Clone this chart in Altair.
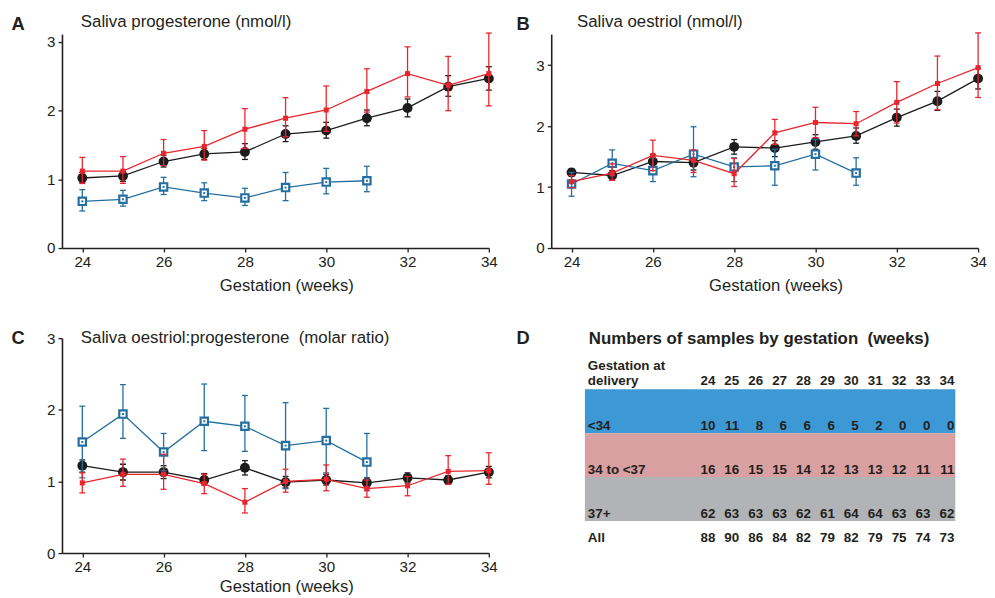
import altair as alt
import pandas as pd

# ---------------- data ----------------
weeks = [24, 25, 26, 27, 28, 29, 30, 31, 32, 33, 34]
weeks_lt34 = [24, 25, 26, 27, 28, 29, 30, 31]

# Panel A: saliva progesterone (nmol/l)
A_black_mean = [1.02, 1.05, 1.26, 1.37, 1.40, 1.66, 1.71, 1.89, 2.04, 2.35, 2.47]
A_black_lo = [0.95, 0.97, 1.18, 1.29, 1.29, 1.55, 1.60, 1.78, 1.91, 2.21, 2.30]
A_black_hi = [1.10, 1.12, 1.35, 1.45, 1.52, 1.78, 1.83, 2.01, 2.17, 2.51, 2.64]
A_red_mean = [1.12, 1.12, 1.38, 1.48, 1.73, 1.89, 2.01, 2.28, 2.54, 2.37, 2.54]
A_red_lo = [0.94, 0.94, 1.20, 1.28, 1.45, 1.62, 1.70, 1.98, 2.20, 2.00, 2.07]
A_red_hi = [1.32, 1.33, 1.58, 1.71, 2.03, 2.19, 2.36, 2.61, 2.93, 2.79, 3.13]
A_blue_mean = [0.68, 0.71, 0.89, 0.80, 0.73, 0.88, 0.96, 0.98]
A_blue_lo = [0.54, 0.61, 0.78, 0.69, 0.62, 0.69, 0.79, 0.82]
A_blue_hi = [0.85, 0.84, 1.03, 0.95, 0.87, 1.10, 1.16, 1.19]

# Panel B: saliva oestriol (nmol/l)
B_black_mean = [1.24, 1.19, 1.42, 1.40, 1.66, 1.64, 1.74, 1.84, 2.14, 2.41, 2.78]
B_black_lo = [1.18, 1.11, 1.32, 1.28, 1.54, 1.50, 1.62, 1.72, 2.00, 2.26, 2.61]
B_black_hi = [1.30, 1.27, 1.53, 1.50, 1.78, 1.76, 1.86, 1.97, 2.28, 2.57, 2.95]
B_red_mean = [1.09, 1.23, 1.52, 1.44, 1.22, 1.89, 2.06, 2.04, 2.39, 2.70, 2.96]
B_red_lo = [0.99, 1.11, 1.27, 1.24, 1.01, 1.70, 1.81, 1.84, 2.05, 2.27, 2.47]
B_red_hi = [1.19, 1.38, 1.77, 1.61, 1.47, 2.11, 2.31, 2.24, 2.73, 3.15, 3.53]
B_blue_mean = [1.05, 1.39, 1.27, 1.54, 1.33, 1.35, 1.54, 1.23]
B_blue_lo = [0.85, 1.19, 1.09, 1.17, 1.09, 1.03, 1.28, 1.03]
B_blue_hi = [1.24, 1.61, 1.48, 1.99, 1.48, 1.62, 1.78, 1.48]

# Panel C: oestriol:progesterone molar ratio
C_black_mean = [1.22, 1.13, 1.13, 1.02, 1.19, 0.99, 1.02, 0.98, 1.05, 1.02, 1.13]
C_black_lo = [1.13, 1.02, 1.04, 0.95, 1.09, 0.91, 0.95, 0.91, 0.98, 0.96, 1.05]
C_black_hi = [1.30, 1.24, 1.22, 1.11, 1.29, 1.07, 1.10, 1.05, 1.12, 1.08, 1.21]
C_red_mean = [0.98, 1.10, 1.10, 0.97, 0.71, 1.00, 1.03, 0.90, 0.94, 1.14, 1.15]
C_red_lo = [0.84, 0.93, 0.89, 0.83, 0.56, 0.85, 0.87, 0.78, 0.80, 0.96, 0.96]
C_red_hi = [1.12, 1.31, 1.38, 1.10, 0.90, 1.17, 1.23, 1.02, 1.07, 1.36, 1.40]
C_blue_mean = [1.55, 1.94, 1.41, 1.84, 1.77, 1.50, 1.57, 1.27]
C_blue_lo = [1.05, 1.60, 1.15, 1.43, 1.42, 0.90, 1.12, 0.87]
C_blue_hi = [2.05, 2.35, 1.67, 2.36, 2.20, 2.10, 2.02, 1.67]

# Panel D: numbers of samples
groups = ["<34", "34 to <37", "37+"]
counts_lt34 = [10, 11, 8, 6, 6, 6, 5, 2, 0, 0, 0]
counts_34_37 = [16, 16, 15, 15, 14, 12, 13, 13, 12, 11, 11]
counts_37p = [62, 63, 63, 63, 62, 61, 64, 64, 63, 63, 62]
counts_all = [88, 90, 86, 84, 82, 79, 82, 79, 75, 74, 73]

# ---------------- styles ----------------
FONT = "Liberation Sans"
TXT = "#231f20"
BLACK = "#1c1c1c"
RED = "#e8262d"
BLUE = "#246fa0"
BAND_COLORS = ["#3d99d5", "#d8a0a1", "#b2b3b6"]
TOP_H = 216
BOT_H = 217


def sdf(ws, mean, lo, hi):
    return pd.DataFrame({"week": ws, "mean": mean, "lo": lo, "hi": hi})


def line_panel(series, ymax, height, title, letter, title_pos, letter_pos, xtitle_pad):
    xs = alt.Scale(domain=[23.5, 34], nice=False, zero=False, padding=0)
    ys = alt.Scale(domain=[0, ymax], nice=False, zero=True, padding=0)
    xax = alt.Axis(values=[24, 26, 28, 30, 32, 34], title="Gestation (weeks)", titleX=226.5,
                   titlePadding=xtitle_pad, grid=False, tickSize=4, labelPadding=3,
                   labelFlush=False)
    yax = alt.Axis(values=[0, 1, 2, 3], title=None, grid=False, tickSize=4, labelPadding=3,
                   labelFlush=False)
    X = alt.X("week:Q", scale=xs, axis=xax)
    layers = []
    for df, color, kind in series:
        base = alt.Chart(df)
        layers.append(base.mark_line(color=color, strokeWidth=1.3).encode(
            x=X, y=alt.Y("mean:Q", scale=ys, axis=yax)))
        layers.append(base.mark_rule(color=color, strokeWidth=1.3).encode(
            x=X, y=alt.Y("lo:Q", scale=ys, axis=yax), y2="hi:Q"))
        for f in ["lo", "hi"]:
            layers.append(base.mark_tick(orient="horizontal", color=color, size=6,
                                         thickness=1.3, opacity=1).encode(
                x=X, y=alt.Y(f"{f}:Q", scale=ys, axis=yax)))
        Y = alt.Y("mean:Q", scale=ys, axis=yax)
        if kind == "circle":
            layers.append(base.mark_point(shape="circle", filled=True, size=100, color=color,
                                          opacity=1).encode(x=X, y=Y))
        elif kind == "small":
            layers.append(base.mark_point(shape="square", filled=True, size=26, color=color,
                                          opacity=1).encode(x=X, y=Y))
        else:
            layers.append(base.mark_point(shape="square", filled=False, fill="white",
                                          fillOpacity=1, stroke=color, strokeWidth=2.2,
                                          size=55, opacity=1).encode(x=X, y=Y))
            layers.append(base.mark_point(shape="square", filled=True, size=4, color=color,
                                          opacity=1).encode(x=X, y=Y))
    layers.append(alt.Chart(pd.DataFrame({"t": [title]})).mark_text(
        align="left", baseline="alphabetic", fontSize=17, color=TXT,
        x=title_pos[0], y=title_pos[1]).encode(text="t:N"))
    layers.append(alt.Chart(pd.DataFrame({"t": [letter]})).mark_text(
        align="left", baseline="alphabetic", fontSize=18.5, fontWeight="bold", color=TXT,
        x=letter_pos[0], y=letter_pos[1]).encode(text="t:N"))
    return alt.layer(*layers).properties(width=431, height=height)


A = line_panel([(sdf(weeks, A_black_mean, A_black_lo, A_black_hi), BLACK, "circle"),
                (sdf(weeks_lt34, A_blue_mean, A_blue_lo, A_blue_hi), BLUE, "open"),
                (sdf(weeks, A_red_mean, A_red_lo, A_red_hi), RED, "small")],
               3.115, TOP_H, "Saliva progesterone (nmol/l)", "A", (19, -7), (-51, -3.7), 8)
B = line_panel([(sdf(weeks, B_black_mean, B_black_lo, B_black_hi), BLACK, "circle"),
                (sdf(weeks_lt34, B_blue_mean, B_blue_lo, B_blue_hi), BLUE, "open"),
                (sdf(weeks, B_red_mean, B_red_lo, B_red_hi), RED, "small")],
               3.51, TOP_H, "Saliva oestriol (nmol/l)", "B", (26, -7), (-35, -3.7), 8)
C = line_panel([(sdf(weeks, C_black_mean, C_black_lo, C_black_hi), BLACK, "circle"),
                (sdf(weeks_lt34, C_blue_mean, C_blue_lo, C_blue_hi), BLUE, "open"),
                (sdf(weeks, C_red_mean, C_red_lo, C_red_hi), RED, "small")],
               3.0, BOT_H, "Saliva oestriol:progesterone\u00a0 (molar ratio)", "C", (19, 4.5), (-51, 5.7), 3)

# ---------------- panel D (table) ----------------
PX_PER_ROW = 44.3
dxs = alt.Scale(domain=[17.133, 34.953], nice=False, zero=False, padding=0)
dys = alt.Scale(domain=[-1.167, (BOT_H - 51.7) / PX_PER_ROW], nice=False, zero=False,
                reverse=True, padding=0)

bands = pd.DataFrame({"group": groups, "r0": [0, 1, 2], "r1": [1, 2, 3]})
cnt_rows = []
for g, r, vals in zip(groups, [1, 2, 3], [counts_lt34, counts_34_37, counts_37p]):
    for w, n in zip(weeks, vals):
        cnt_rows.append({"week": w, "row": r, "n": n})
cnt = pd.DataFrame(cnt_rows)
HEAD1_Y, HEAD2_Y, ALL_Y = -0.43, -0.095, 3.483
allrow = pd.DataFrame({"week": weeks, "row": ALL_Y, "n": counts_all})
header = pd.DataFrame({"week": weeks, "row": HEAD2_Y, "n": weeks})
rowlab = pd.DataFrame({"lab": ["Gestation at", "delivery"] + groups + ["All"],
                       "row": [HEAD1_Y, HEAD2_Y, 1 - 3 / PX_PER_ROW, 2 - 3 / PX_PER_ROW,
                               3 - 3 / PX_PER_ROW, ALL_Y]})

txt_kw = dict(fontSize=13.5, fontWeight="bold", color=TXT, baseline="alphabetic")
d_layers = [
    alt.Chart(bands).mark_rect().encode(
        x=alt.value(34), x2=alt.value(408),
        y=alt.Y("r0:Q", scale=dys, axis=None), y2="r1:Q",
        color=alt.Color("group:N", scale=alt.Scale(domain=groups, range=BAND_COLORS), legend=None)),
    alt.Chart(cnt).mark_text(align="right", dy=-3, **txt_kw).encode(
        x=alt.X("week:Q", scale=dxs, axis=None), y=alt.Y("row:Q", scale=dys, axis=None),
        text="n:Q"),
    alt.Chart(allrow).mark_text(align="right", **txt_kw).encode(
        x=alt.X("week:Q", scale=dxs, axis=None), y=alt.Y("row:Q", scale=dys, axis=None),
        text="n:Q"),
    alt.Chart(header).mark_text(align="right", **txt_kw).encode(
        x=alt.X("week:Q", scale=dxs, axis=None), y=alt.Y("row:Q", scale=dys, axis=None),
        text="n:Q"),
    alt.Chart(rowlab).mark_text(align="left", x=37, **txt_kw).encode(
        y=alt.Y("row:Q", scale=dys, axis=None), text="lab:N"),
    alt.Chart(pd.DataFrame({"t": ["Numbers of samples by gestation\u00a0 (weeks)"]})).mark_text(
        align="left", baseline="alphabetic", fontSize=17, fontWeight="bold", color=TXT,
        x=38, y=6).encode(text="t:N"),
    alt.Chart(pd.DataFrame({"t": ["D"]})).mark_text(
        align="left", baseline="alphabetic", fontSize=18.5, fontWeight="bold", color=TXT,
        x=-35, y=6).encode(text="t:N"),
]
D = alt.layer(*d_layers).properties(width=430, height=BOT_H)

chart = alt.concat(A, B, C, D, columns=2, spacing={"row": 91, "column": 63},
                   bounds="flush").properties(
    padding={"left": 3.5, "top": 2.5, "right": 0, "bottom": 0}
).configure(font=FONT).configure_view(stroke=None).configure_axis(
    labelFont=FONT, titleFont=FONT, labelFontSize=15.3, titleFontSize=16.8,
    titleFontWeight="normal", labelColor=TXT, titleColor=TXT,
    domainColor=TXT, tickColor=TXT, domainWidth=1.6, tickWidth=1.3)

chart.save("out.html", embed_options={"renderer": "svg", "actions": False})
